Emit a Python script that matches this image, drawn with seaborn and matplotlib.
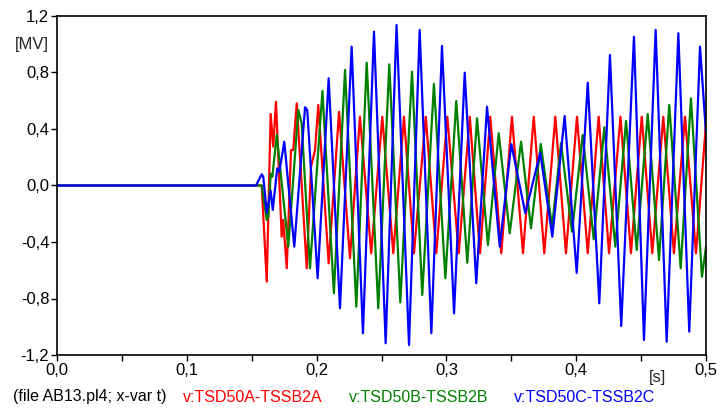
import numpy as np
import pandas as pd
import matplotlib
matplotlib.use('Agg')
import matplotlib.pyplot as plt
from matplotlib.ticker import FuncFormatter, MultipleLocator
import seaborn as sns

sns.set_style('ticks')
plt.rcParams['font.family'] = ['Liberation Sans', 'DejaVu Sans']

# phase A  v:TSD50A-TSSB2A  (time [s], voltage [MV])
t_a = [0.0, 0.1533, 0.1577, 0.1616, 0.1646, 0.1666, 0.1687, 0.1731, 0.1743, 0.1770,
       0.1803, 0.1820, 0.1847, 0.1924, 0.1957, 0.1988, 0.2013, 0.2093, 0.2173, 0.2257,
       0.2334, 0.2421, 0.2506, 0.2591, 0.2673, 0.2750, 0.2841, 0.2922, 0.3007, 0.3095,
       0.3180, 0.3259, 0.3338, 0.3423, 0.3505, 0.3590, 0.3673, 0.3754, 0.3839, 0.3921,
       0.4006, 0.4089, 0.4173, 0.4253, 0.4341, 0.4422, 0.4505, 0.4586, 0.4671, 0.4753,
       0.4838, 0.4923, 0.5000]
v_a = [0.0, 0.0, 0.0, -0.681, 0.506, 0.275, 0.593, -0.362, -0.244, -0.586,
       0.251, 0.251, 0.582, -0.586, 0.133, 0.251, 0.570, -0.551, 0.522, -0.515,
       0.487, -0.480, 0.487, -0.480, 0.487, -0.480, 0.487, -0.480, 0.487, -0.480,
       0.487, -0.480, 0.487, -0.480, 0.487, -0.480, 0.487, -0.480, 0.487, -0.480,
       0.487, -0.480, 0.487, -0.480, 0.487, -0.480, 0.487, -0.480, 0.487, -0.480,
       0.487, -0.480, 0.440]

# phase B  v:TSD50B-TSSB2B
t_b = [0.0, 0.1533, 0.1577, 0.1616, 0.1628, 0.1646, 0.1659, 0.1693, 0.1782, 0.1859,
       0.1885, 0.1949, 0.2045, 0.2133, 0.2219, 0.2306, 0.2386, 0.2475, 0.2560, 0.2645,
       0.2735, 0.2814, 0.2904, 0.2992, 0.3076, 0.3161, 0.3236, 0.3320, 0.3403, 0.3488,
       0.3575, 0.3652, 0.3727, 0.3814, 0.3883, 0.3968, 0.4050, 0.4135, 0.4217, 0.4301,
       0.4384, 0.4466, 0.4551, 0.4638, 0.4717, 0.4805, 0.4884, 0.4969, 0.5000]
v_b = [0.0, 0.0, 0.0, -0.244, -0.221, 0.081, 0.062, 0.358, -0.433, 0.535,
       0.440, -0.586, 0.669, -0.763, 0.818, -0.858, 0.869, -0.869, 0.858, -0.828,
       0.806, -0.775, 0.719, -0.657, 0.598, -0.547, 0.476, -0.421, 0.370, -0.338,
       0.310, -0.303, 0.294, -0.292, 0.299, -0.327, 0.358, -0.381, 0.412, -0.433,
       0.457, -0.457, 0.506, -0.527, 0.570, -0.586, 0.617, -0.646, -0.433]

# phase C  v:TSD50C-TSSB2C
t_c = [0.0, 0.1533, 0.1577, 0.1589, 0.1616, 0.1646, 0.1662, 0.1697, 0.1713, 0.1751,
       0.1828, 0.1911, 0.1928, 0.2008, 0.2093, 0.2180, 0.2270, 0.2357, 0.2442, 0.2532,
       0.2616, 0.2712, 0.2794, 0.2884, 0.2966, 0.3059, 0.3141, 0.3230, 0.3313, 0.3411,
       0.3500, 0.3608, 0.3723, 0.3816, 0.3911, 0.4004, 0.4089, 0.4178, 0.4260, 0.4347,
       0.4445, 0.4522, 0.4612, 0.4697, 0.4787, 0.4871, 0.4954, 0.5000]
v_c = [0.0, 0.0, 0.079, 0.062, -0.193, -0.037, -0.173, 0.122, 0.098, 0.310,
       -0.433, 0.554, 0.535, -0.657, 0.759, -0.869, 0.983, -1.046, 1.089, -1.117,
       1.136, -1.129, 1.101, -1.046, 0.988, -0.905, 0.799, -0.692, 0.558, -0.433,
       0.294, -0.197, 0.232, -0.362, 0.492, -0.619, 0.728, -0.834, 0.924, -0.995,
       1.053, -1.094, 1.101, -1.106, 1.078, -1.035, 0.983, 0.370]

names = ['v:TSD50A-TSSB2A', 'v:TSD50B-TSSB2B', 'v:TSD50C-TSSB2C']
colors = ['#ff0000', '#008000', '#0000ff']

fig = plt.figure(figsize=(7.22, 4.12), dpi=100)
ax = fig.add_axes([57/722, 1 - 355/412, 649/722, 339/412])

for t, v, c in zip([t_a, t_b, t_c], [v_a, v_b, v_c], colors):
    df = pd.DataFrame({'t': t, 'v': v})
    sns.lineplot(data=df, x='t', y='v', color=c, lw=1.6, estimator=None, sort=False, ax=ax)

ax.set_xlim(0, 0.5)
ax.set_ylim(-1.2, 1.2)
ax.set_xlabel('')
ax.set_ylabel('')
comma = FuncFormatter(lambda x, p: f'{x:.1f}'.replace('.', ',').replace('-0,0', '0,0'))
ax.xaxis.set_major_locator(MultipleLocator(0.1))
ax.xaxis.set_minor_locator(MultipleLocator(0.05))
ax.yaxis.set_major_locator(MultipleLocator(0.4))
ax.xaxis.set_major_formatter(comma)
ax.yaxis.set_major_formatter(comma)
ax.tick_params(which='both', direction='out', length=4, width=1, color='black',
               labelsize=12, pad=1.5, labelcolor='black')
for s in ax.spines.values():
    s.set_color('black')
    s.set_linewidth(1.2)

ax.text(-0.012, 1.0, '[MV]', transform=ax.get_yaxis_transform(), ha='right', va='center', fontsize=12)
ax.text(0.463, -0.045, '[s]', transform=ax.get_xaxis_transform(), ha='center', va='top', fontsize=12)

fy = 1 - 397/412
fig.text(13/722, fy, '(file AB13.pl4; x-var t)', fontsize=11.5, va='center', color='black')
for x0, n, c in zip([183, 349, 514], names, colors):
    fig.text(x0/722, fy, n, fontsize=11.5, va='center', color=c)

fig.savefig('out.png', dpi=100)
